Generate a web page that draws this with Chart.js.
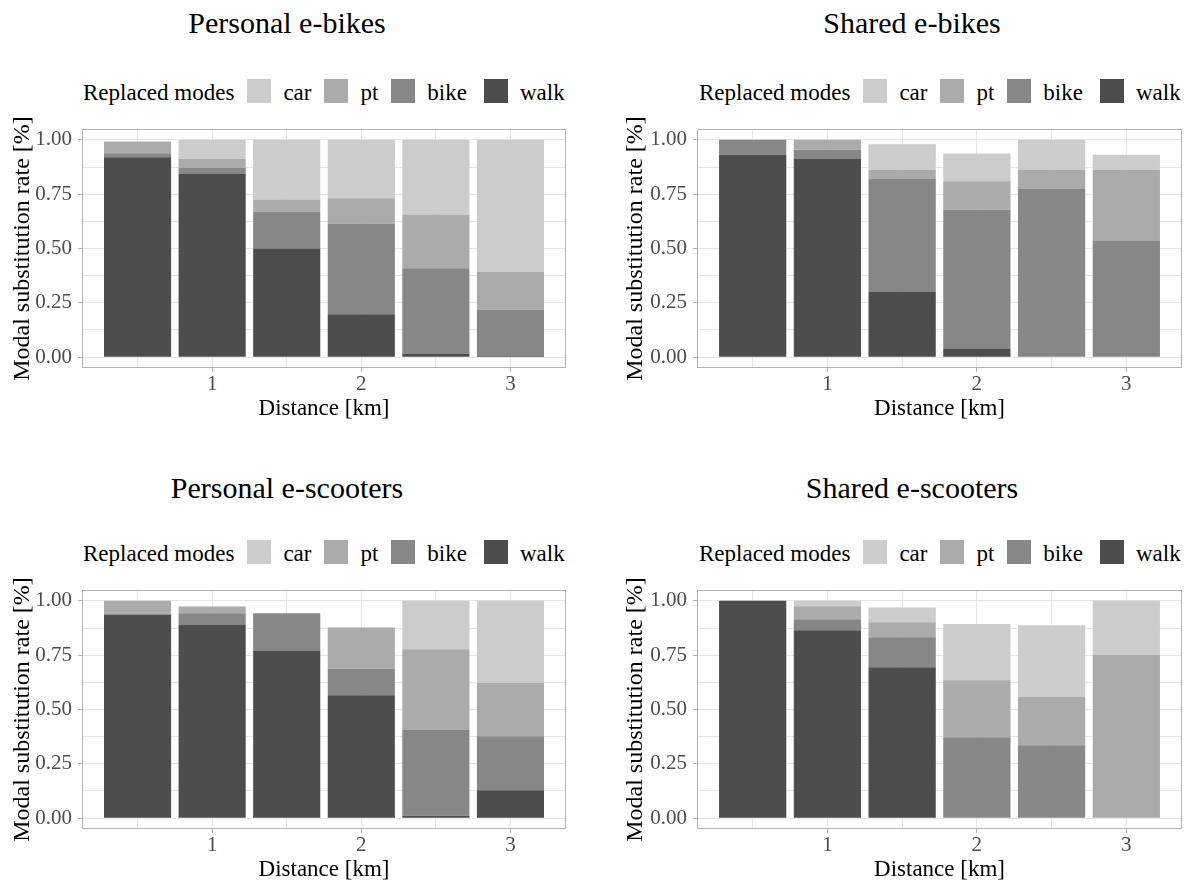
<!DOCTYPE html>
<html>
<head>
<meta charset="utf-8">
<script src="https://cdn.jsdelivr.net/npm/chart.js@4.4.1/dist/chart.umd.min.js"></script>
<style>
  body { margin: 0; background: #fff; }
  #page { position: relative; width: 1190px; height: 882px; background: #fff; overflow: hidden;
          font-family: "Liberation Serif", "Times New Roman", serif; }
  .title { position: absolute; font-size: 30px; line-height: 30px; color: #000; white-space: nowrap;
           transform: translateX(-50%); }
  .legend { position: absolute; display: flex; align-items: center; height: 24px; font-size: 23px;
            line-height: 24px; color: #000; white-space: nowrap; }
  .legend span.txt { position: relative; top: 2px; }
  .legend .key { width: 24px; height: 24px; margin-left: 13px; margin-right: 12px; }
  .legend .key.k3 { margin-left: 17px; }
  canvas { position: absolute; }
</style>
</head>
<body>
<div id="page"></div>
<script>
// ============================
// Data
// ============================
const distances = [0.5, 1, 1.5, 2, 2.5, 3];
const modes = ["car", "pt", "bike", "walk"];
const modeColors = { car: "#cccccc", pt: "#ababab", bike: "#878787", walk: "#4d4d4d" };
const yTicks = [0, 0.25, 0.5, 0.75, 1];
const xTicks = [1, 2, 3];

const personalEbikeWalk = [0.92, 0.843, 0.5, 0.197, 0.017, 0.008];
const personalEbikeBike = [0.018, 0.028, 0.169, 0.418, 0.392, 0.209];
const personalEbikePt   = [0.054, 0.041, 0.057, 0.116, 0.248, 0.175];
const personalEbikeCar  = [0, 0.088, 0.274, 0.269, 0.343, 0.608];

const sharedEbikeWalk = [0.932, 0.912, 0.302, 0.037, 0, 0];
const sharedEbikeBike = [0.068, 0.042, 0.518, 0.641, 0.774, 0.534];
const sharedEbikePt   = [0, 0.046, 0.042, 0.131, 0.088, 0.328];
const sharedEbikeCar  = [0, 0, 0.118, 0.128, 0.138, 0.069];

const personalEscooterWalk = [0.937, 0.891, 0.769, 0.566, 0.011, 0.128];
const personalEscooterBike = [0, 0.052, 0.174, 0.122, 0.397, 0.249];
const personalEscooterPt   = [0.063, 0.031, 0, 0.189, 0.369, 0.246];
const personalEscooterCar  = [0, 0, 0, 0, 0.223, 0.377];

const sharedEscooterWalk = [1, 0.865, 0.695, 0, 0, 0];
const sharedEscooterBike = [0, 0.05, 0.137, 0.372, 0.335, 0];
const sharedEscooterPt   = [0, 0.06, 0.07, 0.263, 0.222, 0.751];
const sharedEscooterCar  = [0, 0.025, 0.067, 0.259, 0.331, 0.249];

const panels = [
  { title: "Personal e-bikes", col: 0, row: 0, walk: personalEbikeWalk, bike: personalEbikeBike, pt: personalEbikePt, car: personalEbikeCar },
  { title: "Shared e-bikes", col: 1, row: 0, walk: sharedEbikeWalk, bike: sharedEbikeBike, pt: sharedEbikePt, car: sharedEbikeCar },
  { title: "Personal e-scooters", col: 0, row: 1, walk: personalEscooterWalk, bike: personalEscooterBike, pt: personalEscooterPt, car: personalEscooterCar },
  { title: "Shared e-scooters", col: 1, row: 1, walk: sharedEscooterWalk, bike: sharedEscooterBike, pt: sharedEscooterPt, car: sharedEscooterCar },
];

// ============================
// Layout
// ============================
const FONT = '"Liberation Serif", "Times New Roman", serif';
Chart.defaults.font.family = FONT;
const GRID = "#e6e6e6", BORDER = "#b3b3b3";

const colLayout = [
  { canvasLeft: 0, canvasWidth: 580, axisWidth: 82, padRight: 14, titleX: 287, legendX: 83, yTitlePad: 8 },
  { canvasLeft: 600, canvasWidth: 590, axisWidth: 97, padRight: 8, titleX: 912, legendX: 699, yTitlePad: 21 },
];
const rowLayout = [
  { canvasTop: 110, titleTop: 8, legendTop: 79 },
  { canvasTop: 571, titleTop: 473, legendTop: 540 },
];

const isMajorY = v => yTicks.some(t => Math.abs(t - v) < 1e-9);
const isMajorX = v => xTicks.some(t => Math.abs(t - v) < 1e-9);

const panelBorder = {
  id: "panelBorder",
  afterDatasetsDraw(chart) {
    const { ctx, chartArea: a } = chart;
    ctx.save();
    ctx.strokeStyle = BORDER;
    ctx.lineWidth = 1;
    ctx.strokeRect(Math.round(a.left) + 0.5, Math.round(a.top) + 0.5,
      Math.round(a.right - a.left) - 1, Math.round(a.bottom - a.top) - 1);
    ctx.restore();
  }
};

const page = document.getElementById("page");

panels.forEach(p => {
  const c = colLayout[p.col], r = rowLayout[p.row];

  const t = document.createElement("div");
  t.className = "title";
  t.textContent = p.title;
  t.style.left = c.titleX + "px";
  t.style.top = r.titleTop + "px";
  page.appendChild(t);

  const lg = document.createElement("div");
  lg.className = "legend";
  lg.style.left = c.legendX + "px";
  lg.style.top = r.legendTop + "px";
  lg.innerHTML = `<span class="txt">Replaced modes</span>` + modes.map((m, i) =>
    `<span class="key k${i}" style="background:${modeColors[m]}"></span><span class="txt">${m}</span>`).join("");
  page.appendChild(lg);

  const canvas = document.createElement("canvas");
  canvas.width = c.canvasWidth; canvas.height = 313;
  canvas.style.left = c.canvasLeft + "px";
  canvas.style.top = r.canvasTop + "px";
  page.appendChild(canvas);

  const datasets = ["walk", "bike", "pt", "car"].map(m => ({
    label: m,
    data: distances.map((d, i) => ({ x: d, y: p[m][i] })),
    backgroundColor: modeColors[m],
    borderWidth: 0,
    categoryPercentage: 1,
    barPercentage: 0.9,
  }));

  new Chart(canvas, {
    type: "bar",
    data: { datasets },
    options: {
      responsive: false, animation: false, devicePixelRatio: 1,
      layout: { padding: { top: 19, right: c.padRight, bottom: 0, left: 0 } },
      plugins: { legend: { display: false }, tooltip: { enabled: false } },
      scales: {
        x: {
          type: "linear", stacked: true, offset: false,
          min: 0.1275, max: 3.3725,
          afterFit: s => { s.height = 55; },
          grid: {
            offset: false, color: GRID, lineWidth: 1, tickLength: 4,
            tickColor: ctx => isMajorX(ctx.tick.value) ? BORDER : "rgba(0,0,0,0)",
          },
          border: { display: false },
          ticks: {
            stepSize: 0.5, includeBounds: false, autoSkip: false, maxRotation: 0, padding: 0,
            color: "#4d4d4d", font: { size: 21 },
            callback: v => isMajorX(v) ? String(Math.round(v)) : "",
          },
          title: { display: true, text: "Distance [km]", color: "#000", font: { size: 23 }, padding: { top: 0, bottom: 0 } },
        },
        y: {
          stacked: true, min: -0.05, max: 1.05,
          afterFit: s => { s.width = c.axisWidth; },
          grid: {
            color: GRID, lineWidth: 1, tickLength: 4,
            tickColor: ctx => isMajorY(ctx.tick.value) ? BORDER : "rgba(0,0,0,0)",
          },
          border: { display: false },
          ticks: {
            stepSize: 0.125, includeBounds: false, autoSkip: false, padding: 6,
            color: "#4d4d4d", font: { size: 21 },
            callback: v => isMajorY(v) ? v.toFixed(2) : "",
          },
          title: { display: true, text: "Modal substitution rate [%]", color: "#000", font: { size: 24 }, padding: { top: c.yTitlePad, bottom: 0 } },
        },
      },
    },
    plugins: [panelBorder],
  });
});
</script>
</body>
</html>
